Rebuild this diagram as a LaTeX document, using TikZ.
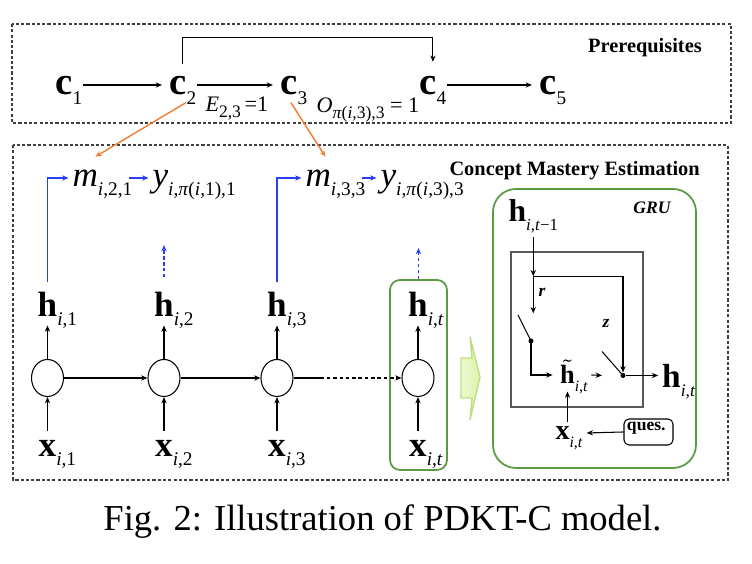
\documentclass[tikz,border=0pt]{standalone}
\usepackage{fontspec}
\setmainfont{Liberation Serif}
\usetikzlibrary{arrows.meta, positioning, shapes.geometric}

\definecolor{conceptblue}{RGB}{40,60,250}
\definecolor{linkorange}{RGB}{240,125,50}
\definecolor{grugreen}{RGB}{90,155,65}
\definecolor{arrowfill}{RGB}{222,242,172}
\definecolor{arrowedge}{RGB}{190,222,130}

% lowered index, and one that takes no width
\newcommand{\idx}[2][5.5]{\raisebox{-0.6ex}{\fontsize{#1}{#1}\selectfont\upshape\mdseries #2}}
\newcommand{\ridx}[2][5.5]{\rlap{\idx[#1]{#2}}}

\begin{document}
\begin{tikzpicture}[line width=0.3pt, >={Stealth[length=1.8pt,width=1.5pt]}]

  \useasboundingbox (0,0) rectangle (7.52,5.64);

  % Define styles
  \tikzstyle{frame_box} = [draw=black!75, dashed, dash pattern=on 0.9pt off 0.6pt, line width=0.35pt]
  \tikzstyle{title} = [anchor=east, text depth=0pt, font=\fontsize{5.8}{7}\selectfont\bfseries]
  \tikzstyle{concept} = [anchor=west, inner xsep=0pt, inner ysep=1pt, text depth=0pt, font=\fontsize{11}{12}\selectfont\bfseries]
  \tikzstyle{vec} = [inner sep=2.5pt, text depth=0pt, font=\fontsize{10}{12}\selectfont\bfseries]
  \tikzstyle{mastery} = [anchor=west, inner sep=1pt, text depth=0pt, font=\fontsize{10}{12}\selectfont\itshape]
  \tikzstyle{cell} = [ellipse, draw, minimum width=0.32cm, minimum height=0.37cm, inner sep=0pt]
  \tikzstyle{dot} = [circle, fill=black, minimum size=0.05cm, inner sep=0pt]
  \tikzstyle{gate_label} = [inner sep=0pt, font=\fontsize{5}{6}\selectfont\bfseries\itshape]
  \tikzstyle{edge_label} = [anchor=west, inner sep=0pt, text depth=0pt, font=\fontsize{6.3}{7}\selectfont]
  \tikzstyle{blue_arrow} = [->, draw=conceptblue, line width=0.4pt]
  \tikzstyle{orange_arrow} = [->, draw=linkorange, line width=0.4pt]
  \tikzstyle{green_box} = [draw=grugreen, line width=0.5pt]

  % Prerequisites
  \draw[frame_box] (0.12,5.40) rectangle (7.31,4.41);
  \node[title] (pre_title) at (7.14,5.19) {Prerequisites};

  \node[concept] (c1) at (0.55,4.79) {c\idx{1}};
  \node[concept] (c2) at (1.69,4.79) {c\idx{2}};
  \node[concept] (c3) at (2.80,4.79) {c\idx{3}};
  \node[concept] (c4) at (4.19,4.79) {c\idx{4}};
  \node[concept] (c5) at (5.39,4.79) {c\idx{5}};

  \draw[->, shorten >=2pt] (c1.east) -- (c2.west);
  \draw[->, shorten >=2pt] (c2.east) -- (c3.west);
  \draw[->, shorten >=2pt] (c4.east) -- (c5.west);
  \draw[->] ([yshift=0.08cm]c2.north) -- ++(0,0.26) -| ([yshift=0.1cm]c4.north);

  \node[edge_label] (e23) at (2.05,4.60) {\textit{E}\idx[5]{2,3}\,=1};
  \node[edge_label] (o_pi) at (3.16,4.59) {\textit{O}\idx[5]{\textit{π}(\textit{i},3),3} = 1};

  % Concept Mastery Estimation
  \draw[frame_box] (0.13,4.19) rectangle (7.28,0.84);
  \node[title] (cme_title) at (7.12,3.96) {Concept Mastery Estimation};

  \node[mastery] (m21) at (0.685,3.86) {m\idx{\textit{i},2,1}};
  \node[mastery] (y1) at (1.485,3.86) {y\idx{\textit{i},\textit{π}(\textit{i},1),1}};
  \node[mastery] (m33) at (3.015,3.86) {m\idx{\textit{i},3,3}};
  \node[mastery] (y3) at (3.765,3.86) {y\idx{\textit{i},\textit{π}(\textit{i},3),3}};

  \draw[orange_arrow] ([xshift=0.03cm,yshift=-0.045cm]c2.south) -- ([xshift=-0.07cm,yshift=0.09cm]m21.north);
  \draw[orange_arrow] ([xshift=-0.03cm,yshift=-0.045cm]c3.south) -- ([xshift=-0.10cm,yshift=0.09cm]m33.north);

  % RNN chain
  \node[cell] (n1) at (0.475,1.86) {};
  \node[vec] (h1) at (0.475,2.60) {h\ridx{\textit{i},1}};
  \node[vec] (x1) at (0.475,1.16) {x\ridx{\textit{i},1}};

  \node[cell] (n2) at (1.64,1.86) {};
  \node[vec] (h2) at (1.64,2.60) {h\ridx{\textit{i},2}};
  \node[vec] (x2) at (1.64,1.16) {x\ridx{\textit{i},2}};

  \node[cell] (n3) at (2.77,1.86) {};
  \node[vec] (h3) at (2.77,2.60) {h\ridx{\textit{i},3}};
  \node[vec] (x3) at (2.77,1.16) {x\ridx{\textit{i},3}};

  \node[cell] (n4) at (4.18,1.86) {};
  \node[vec] (h4) at (4.18,2.60) {h\ridx{\textit{i},\textit{t}}};
  \node[vec] (x4) at (4.18,1.16) {x\ridx{\textit{i},\textit{t}}};
  \node[green_box, rounded corners=0.1cm, minimum width=0.57cm, minimum height=1.9cm] (col_t) at (4.185,1.89) {};

  \draw[->] (n1) -- (h1);
  \draw[->] (x1) -- (n1);
  \draw[->] (n2) -- (h2);
  \draw[->] (x2) -- (n2);
  \draw[->] (n3) -- (h3);
  \draw[->] (x3) -- (n3);
  \draw[->] (n4) -- (h4);
  \draw[->] (x4) -- (n4);

  \draw[->] (n1) -- (n2);
  \draw[->] (n2) -- (n3);
  \draw (n3.east) -- ++(0.27,0) coordinate (n3_out);
  \draw[->, dashed, dash pattern=on 1pt off 0.8pt] (n3_out) -- (n4);

  % Mastery outputs
  \draw[blue_arrow] (h1.north) |- (m21.west);
  \draw[blue_arrow] (h3.north) |- (m33.west);
  \draw[blue_arrow, shorten <=-2pt] (m21.east) -- (y1.west);
  \draw[blue_arrow, shorten <=-2pt] (m33.east) -- (y3.west);
  \coordinate (up2) at (1.64,3.19);
  \coordinate (upt) at (4.185,3.16);
  \draw[blue_arrow, dashed, dash pattern=on 1pt off 0.7pt] ([yshift=0.05cm]h2.north) -- (up2);
  \draw[blue_arrow, dashed, dash pattern=on 1pt off 0.7pt] (col_t.north) -- (upt);

  % Big arrow
  \shadedraw[draw=arrowedge, left color=arrowfill!55!white, right color=arrowfill, line width=0.4pt]
    (4.61,2.06) -- (4.72,2.06) -- (4.70,2.27) -- (4.80,1.87) -- (4.70,1.44) -- (4.72,1.66) -- (4.61,1.66) -- cycle;

  % GRU
  \node[green_box, rounded corners=0.23cm, minimum width=2.03cm, minimum height=2.79cm] (gru_box) at (5.945,2.355) {};
  \node[draw=black!65, line width=0.4pt, minimum width=1.32cm, minimum height=1.55cm] (gru_cell) at (5.77,2.345) {};
  \node[font=\fontsize{5}{6}\selectfont\bfseries\itshape] (gru_title) at (6.52,3.56) {GRU};

  \node[anchor=base west, inner sep=1pt, font=\fontsize{9}{10}\selectfont\bfseries] (h_prev) at (5.045,3.42) {h\idx[4.8]{\textit{i},\textit{t}−1}};
  \draw[->] (h_prev.south) -- ++(0,-0.39) coordinate (r_split);
  \draw[->] (r_split) -- ++(0,-0.37) coordinate (r_in);
  \node[gate_label] (r_label) at (5.42,2.72) {r};
  \node[gate_label] (z_label) at (6.06,2.41) {z};

  \node[dot] (r_gate) at (5.31,2.23) {};
  \draw (r_gate.center) -- ++(-0.13,0.26) coordinate (r_open);
  \node[inner sep=2pt, text height=0.18cm, text depth=0pt, font=\fontsize{7.5}{9}\selectfont\bfseries] (h_cand) at (5.675,1.89) {$\tilde{\textbf{h}}$\ridx[4.5]{\textit{i},\textit{t}}};
  \draw[->] (r_gate.center) |- (h_cand.west);

  \coordinate (z_in) at (6.02,1.885);
  \draw[->] ([xshift=0.09cm]h_cand.east) -- (z_in);
  \node[dot] (z_gate) at (6.23,1.885) {};
  \draw (z_gate.center) -- ++(-0.21,0.24) coordinate (z_open);
  \draw[->] (r_split) -| (z_gate);

  \node[inner sep=1pt, text depth=0pt, font=\fontsize{9.5}{11}\selectfont\bfseries] (h_out) at (6.715,1.885) {h\ridx[5]{\textit{i},\textit{t}}};
  \draw[->] (z_gate) -- (h_out.west);

  \node[anchor=west, inner sep=1pt, text depth=0pt, font=\fontsize{8}{9}\selectfont\bfseries] (x_gru) at (5.515,1.31) {x\idx[4.5]{\textit{i},\textit{t}}};
  \node[draw, rounded corners=0.05cm, text width=0.43cm, align=left, inner xsep=0.03cm, inner ysep=0.02cm, text height=0.1cm, text depth=0.12cm, font=\fontsize{5}{6}\selectfont\bfseries] (ques) at (6.485,1.32) {ques.};
  \draw[->] (ques.west) -- (x_gru.east);
  \draw[->] (h_cand.south |- x_gru.north) -- (h_cand.south);

  % Caption
  \node[font=\fontsize{10.4}{12}\selectfont] (caption) at (3.825,0.42) {Fig. 2: Illustration of PDKT-C model.};

\end{tikzpicture}
\end{document}
